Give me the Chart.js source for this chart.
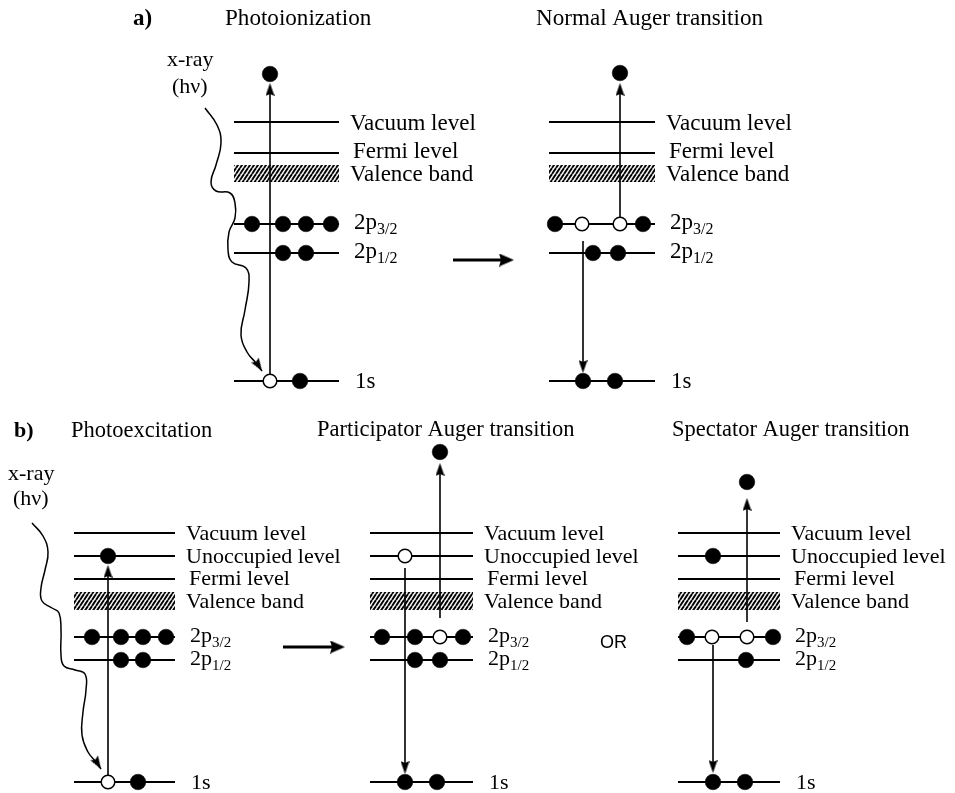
<!DOCTYPE html>
<html>
<head>
<meta charset="utf-8">
<title>Photoionization and Auger transitions</title>
<script src="https://cdn.jsdelivr.net/npm/chart.js@4/dist/chart.umd.min.js"></script>
<style>
  html, body { margin: 0; padding: 0; background: #fff; }
  #wrap { width: 955px; height: 793px; }
</style>
</head>
<body>
<div id="wrap"><canvas id="c" width="955" height="793"></canvas></div>
<script>
// ---------------------------------------------------------------
// Energy-level diagrams (diagram units: x across, y = depth, down)
// ---------------------------------------------------------------

// Level order: vacuum, unoccupied, Fermi, 2p3/2, 2p1/2, 1s
const levelLabels = ['Vacuum level', 'Unoccupied level', 'Fermi level', '2p', '2p', '1s'];
const levelSubs   = [null, null, null, '3/2', '1/2', null];
const levelsRowA  = [122, null, 153, 224, 253, 381];
const levelsRowB  = [533, 556, 579, 637, 660, 782];
const bandLabel   = 'Valence band';
const bandRowA    = [165, 182];
const bandRowB    = [592, 610];

// Sub-diagrams
const diagramTitles = ['Photoionization', 'Normal Auger transition', 'Photoexcitation',
                       'Participator Auger transition', 'Spectator Auger transition'];
const diagramRow  = [0, 0, 1, 1, 1];
const diagramFrom = [234, 549, 74, 370, 678];
const diagramTo   = [339, 655, 175, 473, 780];

// Electrons [x, y, occupied(1) / hole(0)]
const electronsPhotoionization = [
  [252, 224, 1], [283, 224, 1], [306, 224, 1], [331, 224, 1],
  [283, 253, 1], [306, 253, 1],
  [270, 381, 0], [300, 381, 1],
  [270, 74, 1]
];
const electronsNormalAuger = [
  [555, 224, 1], [582, 224, 0], [620, 224, 0], [643, 224, 1],
  [593, 253, 1], [618, 253, 1],
  [583, 381, 1], [615, 381, 1],
  [620, 73, 1]
];
const electronsPhotoexcitation = [
  [108, 556, 1],
  [92, 637, 1], [121, 637, 1], [143, 637, 1], [166, 637, 1],
  [121, 660, 1], [143, 660, 1],
  [108, 782, 0], [138, 782, 1]
];
const electronsParticipator = [
  [405, 556, 0],
  [382, 637, 1], [415, 637, 1], [440, 637, 0], [463, 637, 1],
  [415, 660, 1], [440, 660, 1],
  [405, 782, 1], [437, 782, 1],
  [440, 452, 1]
];
const electronsSpectator = [
  [713, 556, 1],
  [687, 637, 1], [712, 637, 0], [747, 637, 0], [773, 637, 1],
  [746, 660, 1],
  [713, 782, 1], [745, 782, 1],
  [747, 482, 1]
];
const allElectrons = [electronsPhotoionization, electronsNormalAuger, electronsPhotoexcitation,
                      electronsParticipator, electronsSpectator];

// Electron transitions [x, start, tip]
const transitions = [
  [270, 374, 83],
  [620, 217, 83], [583, 241, 373],
  [108, 775, 565],
  [440, 618, 463], [405, 568, 774],
  [747, 622, 498], [713, 645, 773]
];

// Sequence arrows [from, to, y]
const stepArrows = [[453, 514, 260], [283, 345, 647]];

// Incoming x-ray photon paths
const photonA = [[205,108],[217,125],[221,143],[216,165],[211,182],[216,191],[230,193],[235,203],
                 [235,218],[229,232],[228,250],[232,262],[246,268],[249,282],[245,310],[241,335],
                 [247,352],[256,363],[262,371]];
const photonB = [[32,523],[43,536],[48,552],[45,570],[41,588],[42,601],[52,608],[59,613],[61,630],
                 [61,655],[64,666],[75,670],[85,674],[86,690],[83,712],[82,735],[88,752],[96,762],[101,769]];

// ---------------------------------------------------------------
// Drawing helpers
// ---------------------------------------------------------------
const canvas = document.getElementById('c');
const mainCtx = canvas.getContext('2d');

// diagonal hatching for the valence band
const tile = document.createElement('canvas');
tile.width = 4; tile.height = 6;
const tc = tile.getContext('2d');
tc.strokeStyle = '#000';
tc.lineWidth = 1.9;
for (const off of [-4, 0, 4]) {
  tc.beginPath(); tc.moveTo(off, 6); tc.lineTo(off + 4, 0); tc.stroke();
}
const hatch = mainCtx.createPattern(tile, 'repeat');

function makeHead(w, h, notch) {
  const c = document.createElement('canvas');
  c.width = w; c.height = h;
  const g = c.getContext('2d');
  g.fillStyle = '#000';
  g.beginPath();
  g.moveTo(w / 2, 0);
  g.lineTo(w, h);
  g.lineTo(w / 2, h - notch);
  g.lineTo(0, h);
  g.closePath();
  g.fill();
  return c;
}
const thinHead = makeHead(9, 13, 2);
const boldHead = makeHead(13, 15, 2);

const datasets = [];
const xy = p => ({ x: p[0], y: p[1] });

function addLine(points, extra) {
  datasets.push(Object.assign({
    data: points.map(xy), borderColor: '#000', borderWidth: 2, pointRadius: 0,
    fill: false, tension: 0, clip: false, order: 3, showLine: true
  }, extra || {}));
}

const headPts = [], headRot = [], headStyle = [];
function addHead(tipX, tipY, fromX, fromY, img) {
  const dx = tipX - fromX, dy = tipY - fromY;
  const len = Math.hypot(dx, dy);
  const ux = dx / len, uy = dy / len;
  headPts.push({ x: tipX - ux * img.height / 2, y: tipY - uy * img.height / 2 });
  headRot.push(Math.atan2(dx, -dy) * 180 / Math.PI);
  headStyle.push(img);
}

// level lines and valence bands
diagramTitles.forEach((t, d) => {
  const lv = diagramRow[d] === 0 ? levelsRowA : levelsRowB;
  const band = diagramRow[d] === 0 ? bandRowA : bandRowB;
  lv.forEach(y => {
    if (y !== null) addLine([[diagramFrom[d], y], [diagramTo[d], y]], { borderWidth: 2 });
  });
  datasets.push({
    data: [xy([diagramFrom[d], band[0]]), xy([diagramTo[d], band[0]])],
    borderColor: 'rgba(0,0,0,0)', borderWidth: 1, pointRadius: 0,
    backgroundColor: hatch, fill: '+1', order: 4, clip: false, showLine: true
  });
  datasets.push({
    data: [xy([diagramFrom[d], band[1]]), xy([diagramTo[d], band[1]])],
    borderColor: 'rgba(0,0,0,0)', borderWidth: 1, pointRadius: 0,
    fill: false, order: 4, clip: false, showLine: true
  });
});

// transitions
transitions.forEach(([x, y0, tip]) => {
  const dir = tip < y0 ? -1 : 1;
  addLine([[x, y0], [x, tip - dir * (thinHead.height - 3)]], { borderWidth: 1.6 });
  addHead(x, tip, x, y0, thinHead);
});

// photon paths
[photonA, photonB].forEach(path => {
  addLine(path, { borderWidth: 1.5, tension: 0.45 });
  const a = path[path.length - 2], b = path[path.length - 1];
  addHead(b[0], b[1], a[0] - 3, a[1] - 6, thinHead);
});

// sequence arrows
stepArrows.forEach(([x0, x1, y]) => {
  addLine([[x0, y], [x1 - boldHead.height + 3, y]], { borderWidth: 3 });
  addHead(x1, y, x0, y, boldHead);
});

// arrowheads
datasets.push({
  data: headPts, showLine: false, pointStyle: headStyle, pointRotation: headRot,
  pointRadius: 6, order: 0, clip: false
});

// electrons and holes
allElectrons.forEach(list => {
  datasets.push({
    data: list.filter(e => e[2] === 1).map(xy), showLine: false,
    pointStyle: 'circle', pointRadius: 7.8, pointBackgroundColor: '#000',
    pointBorderColor: '#000', pointBorderWidth: 0.5, order: 1, clip: false
  });
  datasets.push({
    data: list.filter(e => e[2] === 0).map(xy), showLine: false,
    pointStyle: 'circle', pointRadius: 6.8, pointBackgroundColor: '#fff',
    pointBorderColor: '#000', pointBorderWidth: 1.5, order: 1, clip: false
  });
});

// ---------------------------------------------------------------
// Text
// ---------------------------------------------------------------
const SERIF = '"Liberation Serif", "Times New Roman", serif';
const titleX = [225, 536, 71, 317, 672];
const titleBase = [25, 25, 437, 436, 436];
const rowTitleSize = [23.1, 22.5];
const rowLabelSize = [23, 22];
const rowSubSize = [16, 15];
const labelIndent = [11, 11, 14, 15, 15, 16];
const labelShiftA = [8, 8, 5, 5, 5, 7];
const labelShiftB = [7, 7, 6, 5, 5, 7];

const textPlugin = {
  id: 'diagramText',
  afterDatasetsDraw(chart) {
    const { ctx } = chart;
    const sx = chart.scales.x, sy = chart.scales.y;
    const put = (txt, x, y, font) => {
      ctx.font = font;
      ctx.fillText(txt, sx.getPixelForValue(x), sy.getPixelForValue(y));
      return ctx.measureText(txt).width;
    };
    ctx.save();
    ctx.fillStyle = '#000';
    ctx.textBaseline = 'alphabetic';
    ctx.textAlign = 'left';

    put('a)', 133, 25, 'bold 23px ' + SERIF);
    put('b)', 14, 437, 'bold 22px ' + SERIF);
    diagramTitles.forEach((t, d) =>
      put(t, titleX[d], titleBase[d], rowTitleSize[diagramRow[d]] + 'px ' + SERIF));

    put('x-ray', 167, 66, '22px ' + SERIF);
    put('(h\u03BD)', 172, 93, '22px ' + SERIF);
    put('x-ray', 8, 480, '22px ' + SERIF);
    put('(h\u03BD)', 13, 505, '22px ' + SERIF);

    ctx.font = '18px "Liberation Sans", Arial, sans-serif';
    ctx.fillText('OR', sx.getPixelForValue(600), sy.getPixelForValue(648));

    diagramTitles.forEach((t, d) => {
      const row = diagramRow[d];
      const lv = row === 0 ? levelsRowA : levelsRowB;
      const shift = row === 0 ? labelShiftA : labelShiftB;
      const band = row === 0 ? bandRowA : bandRowB;
      const font = rowLabelSize[row] + 'px ' + SERIF;
      const subFont = rowSubSize[row] + 'px ' + SERIF;
      lv.forEach((y, k) => {
        if (y === null) return;
        const x = diagramTo[d] + labelIndent[k];
        const w = put(levelLabels[k], x, y + shift[k], font);
        if (levelSubs[k]) put(levelSubs[k], x + w, y + shift[k] + 5, subFont);
      });
      put(bandLabel, diagramTo[d] + 11, (band[0] + band[1]) / 2 + 7, font);
    });
    ctx.restore();
  }
};

new Chart(canvas, {
  type: 'line',
  data: { datasets },
  options: {
    responsive: false,
    devicePixelRatio: 1,
    animation: false,
    events: [],
    layout: { padding: 0, autoPadding: false },
    plugins: { legend: { display: false }, tooltip: { enabled: false }, title: { display: false } },
    scales: {
      x: { type: 'linear', min: 0, max: 955, display: false },
      y: { type: 'linear', min: 0, max: 793, reverse: true, display: false }
    }
  },
  plugins: [textPlugin]
});
</script>
</body>
</html>
